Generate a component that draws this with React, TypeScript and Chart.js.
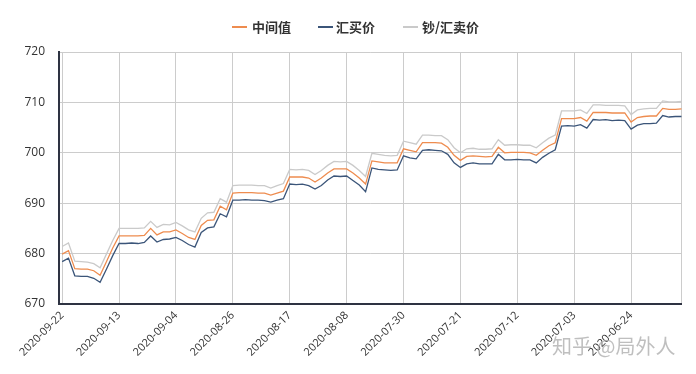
import { useEffect, useRef } from 'react';
import { Chart, registerables } from 'chart.js';

Chart.register(...registerables);

const dates = [
  '2020-09-22', '2020-09-21', '2020-09-20', '2020-09-19', '2020-09-18', '2020-09-17', '2020-09-16', '2020-09-15', '2020-09-14', '2020-09-13',
  '2020-09-12', '2020-09-11', '2020-09-10', '2020-09-09', '2020-09-08', '2020-09-07', '2020-09-06', '2020-09-05', '2020-09-04', '2020-09-03',
  '2020-09-02', '2020-09-01', '2020-08-31', '2020-08-30', '2020-08-29', '2020-08-28', '2020-08-27', '2020-08-26', '2020-08-25', '2020-08-24',
  '2020-08-23', '2020-08-22', '2020-08-21', '2020-08-20', '2020-08-19', '2020-08-18', '2020-08-17', '2020-08-16', '2020-08-15', '2020-08-14',
  '2020-08-13', '2020-08-12', '2020-08-11', '2020-08-10', '2020-08-09', '2020-08-08', '2020-08-07', '2020-08-06', '2020-08-05', '2020-08-04',
  '2020-08-03', '2020-08-02', '2020-08-01', '2020-07-31', '2020-07-30', '2020-07-29', '2020-07-28', '2020-07-27', '2020-07-26', '2020-07-25',
  '2020-07-24', '2020-07-23', '2020-07-22', '2020-07-21', '2020-07-20', '2020-07-19', '2020-07-18', '2020-07-17', '2020-07-16', '2020-07-15',
  '2020-07-14', '2020-07-13', '2020-07-12', '2020-07-11', '2020-07-10', '2020-07-09', '2020-07-08', '2020-07-07', '2020-07-06', '2020-07-05',
  '2020-07-04', '2020-07-03', '2020-07-02', '2020-07-01', '2020-06-30', '2020-06-29', '2020-06-28', '2020-06-27', '2020-06-26', '2020-06-25',
  '2020-06-24', '2020-06-23', '2020-06-22', '2020-06-21', '2020-06-20', '2020-06-19', '2020-06-18', '2020-06-17', '2020-06-16',
];

const midRate = [
  679.9, 680.6, 677.0, 676.9, 676.9, 676.6, 675.7, 678.4, 681.1, 683.5,
  683.5, 683.5, 683.5, 683.6, 685.0, 683.7, 684.3, 684.3, 684.7, 684.0,
  683.2, 682.8, 685.6, 686.6, 686.7, 689.4, 688.7, 692.0, 692.1, 692.1,
  692.1, 692.0, 692.0, 691.6, 692.0, 692.4, 695.2, 695.2, 695.2, 695.0,
  694.2, 695.0, 696.0, 696.8, 696.8, 696.8, 696.0, 695.0, 693.8, 698.4,
  698.2, 698.0, 698.0, 698.0, 700.8, 700.5, 700.2, 702.0, 702.0, 702.0,
  701.9, 701.1, 699.5, 698.5, 699.3, 699.4, 699.3, 699.2, 699.3, 701.1,
  700.0, 700.1, 700.1, 700.1, 700.0, 699.5, 700.5, 701.4, 702.0, 706.8,
  706.8, 706.8, 707.0, 706.3, 708.0, 708.0, 708.0, 707.9, 707.9, 707.9,
  706.1, 707.0, 707.2, 707.3, 707.3, 708.8, 708.6, 708.6, 708.7,
];

const buyRate = [
  678.4, 679.1, 675.6, 675.5, 675.5, 675.1, 674.3, 676.9, 679.6, 682.0,
  682.0, 682.1, 682.0, 682.2, 683.5, 682.3, 682.8, 682.9, 683.2, 682.6,
  681.8, 681.3, 684.2, 685.1, 685.3, 687.9, 687.3, 690.6, 690.6, 690.7,
  690.6, 690.6, 690.5, 690.2, 690.6, 690.9, 693.8, 693.7, 693.8, 693.5,
  692.8, 693.5, 694.6, 695.4, 695.3, 695.4, 694.5, 693.6, 692.3, 697.0,
  696.7, 696.6, 696.5, 696.6, 699.4, 699.0, 698.8, 700.5, 700.6, 700.5,
  700.4, 699.7, 698.0, 697.1, 697.8, 698.0, 697.8, 697.8, 697.8, 699.7,
  698.6, 698.6, 698.7, 698.6, 698.6, 698.0, 699.1, 699.9, 700.6, 705.3,
  705.4, 705.3, 705.6, 704.9, 706.6, 706.5, 706.6, 706.4, 706.5, 706.4,
  704.7, 705.5, 705.8, 705.8, 705.9, 707.4, 707.1, 707.2, 707.2,
];

const sellRate = [
  681.4, 682.1, 678.5, 678.4, 678.3, 678.0, 677.2, 679.9, 682.6, 685.0,
  685.0, 685.0, 685.0, 685.1, 686.4, 685.2, 685.8, 685.7, 686.2, 685.5,
  684.7, 684.3, 687.0, 688.1, 688.2, 690.9, 690.2, 693.5, 693.6, 693.6,
  693.6, 693.5, 693.5, 693.0, 693.5, 693.9, 696.7, 696.6, 696.7, 696.5,
  695.7, 696.5, 697.5, 698.3, 698.2, 698.3, 697.5, 696.5, 695.3, 699.9,
  699.7, 699.5, 699.4, 699.5, 702.3, 702.0, 701.7, 703.5, 703.5, 703.4,
  703.4, 702.6, 701.0, 700.0, 700.8, 700.9, 700.7, 700.7, 700.8, 702.6,
  701.5, 701.6, 701.6, 701.5, 701.5, 701.0, 702.0, 702.9, 703.5, 708.3,
  708.3, 708.3, 708.5, 707.8, 709.5, 709.5, 709.4, 709.4, 709.4, 709.3,
  707.6, 708.5, 708.7, 708.8, 708.8, 710.3, 710.1, 710.1, 710.2,
];

const xTickIndices = [0, 9, 18, 27, 36, 45, 54, 63, 72, 81, 90];
const yTicks = [670, 680, 690, 700, 710, 720];

const seriesNames = ['中间值', '汇买价', '钞/汇卖价'];
const seriesColors = ['#ee8c4f', '#3b5579', '#cacaca'];

const CJK = '"Noto Sans CJK SC", "Noto Sans", sans-serif';

export default function App() {
  const ref = useRef<HTMLCanvasElement>(null);

  useEffect(() => {
    document.body.style.margin = '0';
    const canvas = ref.current;
    if (!canvas) return;
    const lastIndex = dates.length - 1;
    const toPts = (arr: number[]) => arr.map((y, i) => ({ x: i, y }));
    const series = [midRate, buyRate, sellRate];
    const chart = new Chart(canvas, {
      type: 'line',
      data: {
        datasets: series.map((arr, k) => ({
          label: seriesNames[k],
          data: toPts(arr),
          borderColor: seriesColors[k],
          backgroundColor: seriesColors[k],
          borderWidth: 1.3,
          pointRadius: 0,
          tension: 0,
          fill: false,
        })),
      },
      options: {
        animation: false,
        responsive: false,
        layout: { padding: { top: 52, right: 13, left: 0, bottom: 0 } },
        plugins: { legend: { display: false }, tooltip: { enabled: false } },
        scales: {
          x: {
            type: 'linear',
            min: -0.5,
            max: lastIndex,
            afterBuildTicks: (s: any) => {
              s.ticks = [...xTickIndices, lastIndex].map((v) => ({ value: v }));
            },
            afterFit: (s: any) => {
              s.height = 70;
            },
            grid: { color: '#cccccc', drawTicks: false, lineWidth: 1 },
            border: { color: '#2e3342', width: 2 },
            ticks: {
              autoSkip: false,
              minRotation: 45,
              maxRotation: 45,
              padding: 5,
              color: '#333333',
              font: { size: 11, family: '"Open Sans", sans-serif' },
              callback: (v: any) => (xTickIndices.includes(Number(v)) ? dates[Number(v)] : ''),
            },
          },
          y: {
            min: 670,
            max: 720,
            afterBuildTicks: (s: any) => {
              s.ticks = yTicks.map((v) => ({ value: v }));
            },
            afterFit: (s: any) => {
              s.width = 59;
            },
            grid: { color: '#cccccc', drawTicks: false, lineWidth: 1 },
            border: { color: '#2e3342', width: 2 },
            ticks: {
              padding: 14,
              color: '#333333',
              font: { size: 12, family: '"Open Sans", sans-serif' },
            },
          },
        },
      },
    } as any);
    return () => chart.destroy();
  }, []);

  const legendPos = [
    { line: 232, text: 252 },
    { line: 318, text: 336 },
    { line: 403, text: 422 },
  ];

  return (
    <div style={{ position: 'relative', width: 696, height: 374, background: '#ffffff' }}>
      <canvas ref={ref} width={696} height={374} style={{ display: 'block' }} />
      {seriesNames.map((name, k) => (
        <div key={name}>
          <div
            style={{
              position: 'absolute',
              left: legendPos[k].line,
              top: 26,
              width: 15,
              height: 2,
              background: seriesColors[k],
            }}
          />
          <span
            style={{
              position: 'absolute',
              left: legendPos[k].text,
              top: 18,
              fontFamily: CJK,
              fontSize: 13,
              fontWeight: 700,
              lineHeight: '18px',
              color: '#333333',
              whiteSpace: 'nowrap',
            }}
          >
            {name}
          </span>
        </div>
      ))}
      <span
        style={{
          position: 'absolute',
          left: 552,
          top: 333,
          fontFamily: CJK,
          fontSize: 20,
          lineHeight: '26px',
          color: 'rgba(170,170,170,0.75)',
          whiteSpace: 'nowrap',
        }}
      >
        知乎 @局外人
      </span>
    </div>
  );
}
